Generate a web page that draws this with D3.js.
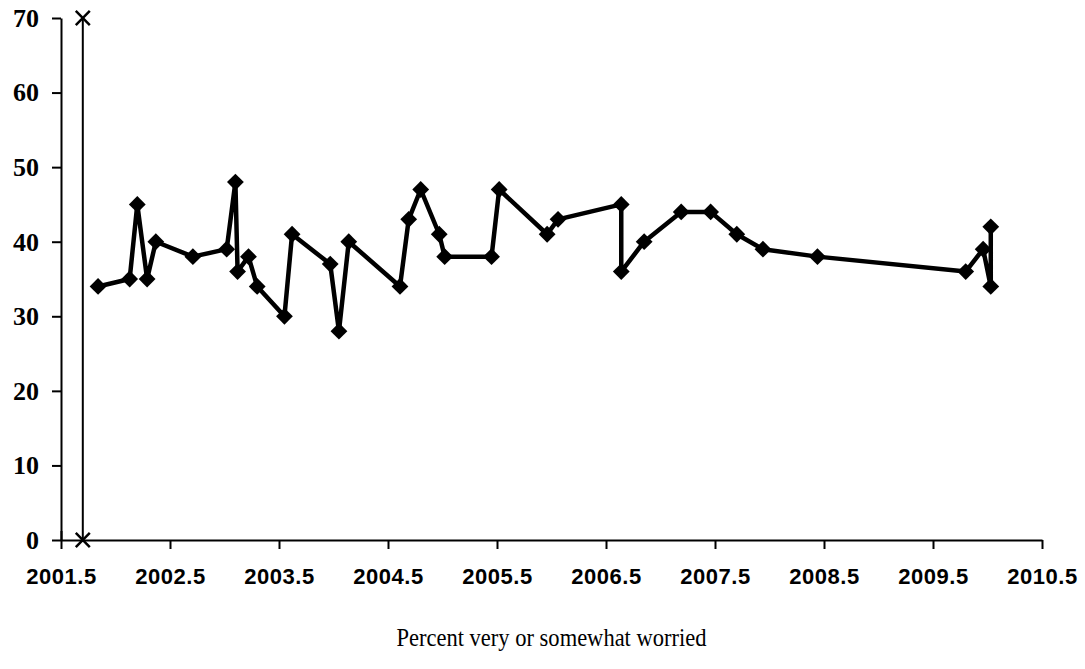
<!DOCTYPE html>
<html>
<head>
<meta charset="utf-8">
<script src="https://cdn.jsdelivr.net/npm/d3@7"></script>
<style>
  body { margin: 0; background: #fff; }
  .ylab text { font-family: "Liberation Serif", "Times New Roman", serif; font-weight: bold; font-size: 26px; }
  .xlab text { font-family: "Liberation Sans", Arial, sans-serif; font-weight: bold; font-size: 22px; letter-spacing: 0.5px; }
</style>
</head>
<body>
<div id="chart"></div>
<script>
// survey dates (decimal years) and percent worried
var dates = [2001.84, 2002.13, 2002.2, 2002.29, 2002.37, 2002.71, 2003.02, 2003.1, 2003.12, 2003.22,
  2003.3, 2003.55, 2003.62, 2003.97, 2004.05, 2004.14, 2004.61, 2004.69, 2004.8, 2004.97,
  2005.02, 2005.45, 2005.52, 2005.96, 2006.06, 2006.64, 2006.64, 2006.85, 2007.19, 2007.46,
  2007.7, 2007.94, 2008.44, 2009.8, 2009.96, 2010.03, 2010.03];
var worried = [34, 35, 45, 35, 40, 38, 39, 48, 36, 38,
  34, 30, 41, 37, 28, 40, 34, 43, 47, 41,
  38, 38, 47, 41, 43, 45, 36, 40, 44, 44,
  41, 39, 38, 36, 39, 34, 42];

// marker line (Sept 2001)
var markerDates = [2001.7, 2001.7];
var markerValues = [0, 70];

var xTicks = [2001.5, 2002.5, 2003.5, 2004.5, 2005.5, 2006.5, 2007.5, 2008.5, 2009.5, 2010.5];
var yTicks = [0, 10, 20, 30, 40, 50, 60, 70];

var width = 1085,
  height = 669;
var margin = { top: 18, right: 43, bottom: 129, left: 61 };

var svg = d3
  .select("#chart")
  .append("svg")
  .attr("width", width)
  .attr("height", height);

var x = d3
  .scaleLinear()
  .domain([2001.5, 2010.5])
  .range([margin.left, width - margin.right]);
var y = d3
  .scaleLinear()
  .domain([0, 70])
  .range([height - margin.bottom, margin.top]);

// y axis
var yAxis = svg
  .append("g")
  .attr("class", "ylab")
  .attr("transform", "translate(" + margin.left + ",0)")
  .call(
    d3.axisLeft(y)
      .tickValues(yTicks)
      .tickFormat(d3.format("d"))
      .tickSize(9)
      .tickSizeOuter(0)
      .tickPadding(13)
  );

// x axis
var xAxis = svg
  .append("g")
  .attr("class", "xlab")
  .attr("transform", "translate(0," + y(0) + ")")
  .call(
    d3.axisBottom(x)
      .tickValues(xTicks)
      .tickFormat(d3.format(".1f"))
      .tickSize(9)
      .tickSizeOuter(0)
      .tickPadding(19)
  );

svg.selectAll(".domain, .tick line").attr("stroke", "#000").attr("stroke-width", 2);
svg.selectAll(".tick text").attr("fill", "#000");

// x ticks only go down, the first one crosses the axis
xAxis.selectAll(".tick line").attr("y1", function(d) {
  return d === 2001.5 ? -9 : 0;
});

// vertical marker line
var markerPts = markerDates.map(function(d, i) {
  return [d, markerValues[i]];
});
svg
  .append("path")
  .datum(markerPts)
  .attr("fill", "none")
  .attr("stroke", "#000")
  .attr("stroke-width", 2)
  .attr("d", d3.line().x(d => x(d[0])).y(d => y(d[1])));

svg
  .selectAll(".star")
  .data(markerPts)
  .enter()
  .append("path")
  .attr("class", "star")
  .attr("transform", d => "translate(" + x(d[0]) + "," + y(d[1]) + ")")
  .attr("d", d3.symbol(d3.symbolTimes, 130))
  .attr("fill", "none")
  .attr("stroke", "#000")
  .attr("stroke-width", 2.5);

// main series
var pts = dates.map(function(d, i) {
  return [d, worried[i]];
});

svg
  .append("path")
  .datum(pts)
  .attr("fill", "none")
  .attr("stroke", "#000")
  .attr("stroke-width", 4.5)
  .attr("stroke-linejoin", "round")
  .attr("d", d3.line().x(d => x(d[0])).y(d => y(d[1])));

svg
  .selectAll(".dot")
  .data(pts)
  .enter()
  .append("path")
  .attr("class", "dot")
  .attr("transform", d => "translate(" + x(d[0]) + "," + y(d[1]) + ")")
  .attr("d", d3.symbol(d3.symbolDiamond2, 180))
  .attr("fill", "#000");

// axis title
svg
  .append("text")
  .attr("x", (x(2001.5) + x(2010.5)) / 2)
  .attr("y", 646)
  .attr("text-anchor", "middle")
  .attr("textLength", 310)
  .attr("lengthAdjust", "spacingAndGlyphs")
  .style("font-family", "'Liberation Serif', 'Times New Roman', serif")
  .style("font-size", "25px")
  .text("Percent very or somewhat worried");
</script>
</body>
</html>
